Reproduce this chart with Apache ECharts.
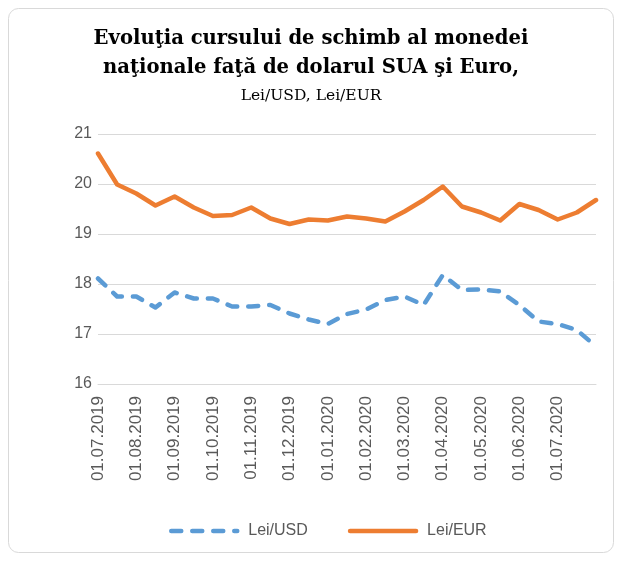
<!DOCTYPE html>
<html>
<head>
    <meta charset="utf-8">
    <title>Evoluţia cursului de schimb</title>
    <script src="https://cdn.jsdelivr.net/npm/echarts@6/dist/echarts.min.js"></script>
    <style>
        body{ margin:0; background:#fff; }
        #chart{ width:622px; height:561px; }
    </style>
</head>
<body>
    <div id="chart"></div>
    <script type="text/javascript">
        // date categories (1st and mid of month)
        var dates = ['01.07.2019','15.07.2019','01.08.2019','15.08.2019','01.09.2019','15.09.2019',
                     '01.10.2019','15.10.2019','01.11.2019','15.11.2019','01.12.2019','15.12.2019',
                     '01.01.2020','15.01.2020','01.02.2020','15.02.2020','01.03.2020','15.03.2020',
                     '01.04.2020','15.04.2020','01.05.2020','15.05.2020','01.06.2020','15.06.2020',
                     '01.07.2020','15.07.2020','31.07.2020'];
        var leiUsd = [18.11, 17.75, 17.75, 17.53, 17.83, 17.71, 17.71, 17.55, 17.55, 17.58, 17.41, 17.29,
                      17.20, 17.40, 17.49, 17.68, 17.75, 17.58, 18.18, 17.88, 17.89, 17.85, 17.58, 17.25,
                      17.20, 17.08, 16.75];
        var leiEur = [20.61, 19.99, 19.81, 19.57, 19.75, 19.53, 19.36, 19.38, 19.53, 19.31, 19.20, 19.29,
                      19.27, 19.35, 19.31, 19.25, 19.45, 19.68, 19.95, 19.55, 19.43, 19.27, 19.60, 19.48,
                      19.29, 19.43, 19.68];

        var myChart = echarts.init(document.getElementById('chart'));
        var labelFont = 'Liberation Sans';

        var option = {
            backgroundColor: '#fff',
            graphic: [{
                type: 'rect',
                shape: { x: 8.5, y: 8.5, width: 605, height: 544, r: 10 },
                style: { fill: 'none', stroke: '#d9d9d9', lineWidth: 1 }
            }],
            title: {
                left: 'center',
                top: 19,
                text: '{b|Evoluţia cursului de schimb al monedei}\n{b|naţionale faţă de dolarul SUA şi Euro,}\n{n|Lei/USD, Lei/EUR}',
                textStyle: {
                    rich: {
                        b: { fontFamily: 'DejaVu Serif', fontWeight: 'bold', fontSize: 19.6, color: '#000', lineHeight: 29, align: 'center' },
                        n: { fontFamily: 'DejaVu Serif', fontWeight: 'normal', fontSize: 15.5, color: '#000', lineHeight: 28, align: 'center' }
                    }
                }
            },
            legend: {
                bottom: 17,
                left: 164,
                itemWidth: 66,
                itemHeight: 14,
                itemGap: 40,
                itemStyle: { opacity: 0 },
                lineStyle: { width: 4.5, cap: 'round' },
                textStyle: { fontFamily: labelFont, fontSize: 16, color: '#595959', padding: [0, 0, 0, 6] },
                data: ['Lei/USD', 'Lei/EUR']
            },
            grid: {
                left: 98,
                right: 26,
                top: 134,
                bottom: 177
            },
            xAxis: {
                type: 'category',
                boundaryGap: false,
                data: dates,
                axisLine: { lineStyle: { color: '#d9d9d9' } },
                axisTick: { show: false },
                axisLabel: {
                    rotate: 90,
                    margin: 12,
                    fontFamily: labelFont,
                    fontSize: 17,
                    color: '#595959',
                    interval: function (i) { return i % 2 === 0 && i < 26; }
                }
            },
            yAxis: {
                type: 'value',
                min: 16,
                max: 21,
                interval: 1,
                axisLine: { show: false },
                axisTick: { show: false },
                axisLabel: { fontFamily: labelFont, fontSize: 16, color: '#595959', margin: 6 },
                splitLine: { lineStyle: { color: '#d9d9d9', width: 1 } }
            },
            series: [
                {
                    name: 'Lei/USD',
                    type: 'line',
                    data: leiUsd,
                    symbol: 'none',
                    color: '#5b9bd5',
                    lineStyle: { color: '#5b9bd5', width: 4.5, type: [10, 11], cap: 'round', join: 'round' }
                },
                {
                    name: 'Lei/EUR',
                    type: 'line',
                    data: leiEur,
                    symbol: 'none',
                    color: '#ed7d31',
                    lineStyle: { color: '#ed7d31', width: 4.5, cap: 'round', join: 'round' }
                }
            ]
        };

        myChart.setOption(option);
    </script>
</body>
</html>
